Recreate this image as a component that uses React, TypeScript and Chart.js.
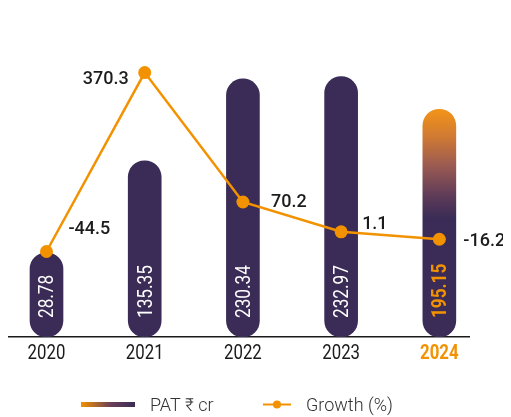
import React, { useEffect, useRef } from "react";
import { Chart, registerables } from "chart.js";

Chart.register(...registerables);

// ---- data ----
const years = [2020, 2021, 2022, 2023, 2024];
const yearLabels = ["2020", "2021", "2022", "2023", "2024"];
const patValues = [28.78, 135.35, 230.34, 232.97, 195.15];
const patLabels = ["28.78", "135.35", "230.34", "232.97", "195.15"];
const growthValues = [-44.5, 370.3, 70.2, 1.1, -16.2];
const growthLabels = ["-44.5", "370.3", "70.2", "1.1", "-16.2"];
const legendLabels = ["PAT \u20B9 cr", "Growth (%)"];

// ---- styles ----
const PURPLE = "#3a2c56";
const ORANGE = "#f39200";
const HIGHLIGHT = 4;
const growthPlacement = [
  { dx: 22, dy: -22, align: "left" },
  { dx: -16, dy: 7, align: "right" },
  { dx: 28, dy: 0, align: "left" },
  { dx: 21, dy: -7, align: "left" },
  { dx: 24, dy: 2, align: "left" },
];

const overlayPlugin = {
  id: "overlay",
  afterDatasetsDraw(chart: any) {
    const { ctx, chartArea } = chart;
    // top rule
    ctx.save();
    ctx.strokeStyle = "#b4b4b4";
    ctx.lineWidth = 2;
    ctx.beginPath();
    ctx.moveTo(chartArea.left, 6);
    ctx.lineTo(chartArea.right + 1, 6);
    ctx.stroke();
    ctx.restore();

    // bar labels (rotated)
    const barMeta = chart.getDatasetMeta(0);
    barMeta.data.forEach((bar: any, i: number) => {
      ctx.save();
      ctx.translate(bar.x, bar.base - 19);
      ctx.rotate(-Math.PI / 2);
      ctx.scale(0.86, 1);
      ctx.textAlign = "left";
      ctx.textBaseline = "alphabetic";
      if (i === HIGHLIGHT) {
        ctx.fillStyle = ORANGE;
        ctx.font = "bold 20px Roboto, sans-serif";
      } else {
        ctx.fillStyle = "#ffffff";
        ctx.font = "20px Roboto, sans-serif";
      }
      ctx.fillText(patLabels[i], 0, 7);
      ctx.restore();
    });

    // year labels
    const xs = chart.scales.x;
    years.forEach((yr, i) => {
      ctx.save();
      ctx.translate(xs.getPixelForValue(yr), 359);
      ctx.scale(0.84, 1);
      ctx.textAlign = "center";
      ctx.textBaseline = "alphabetic";
      if (i === HIGHLIGHT) {
        ctx.fillStyle = ORANGE;
        ctx.font = "bold 20px Roboto, sans-serif";
      } else {
        ctx.fillStyle = "#1a1a1a";
        ctx.font = "20px Roboto, sans-serif";
      }
      ctx.fillText(yearLabels[i], 0, 0);
      ctx.restore();
    });

    // growth labels
    const lineMeta = chart.getDatasetMeta(1);
    lineMeta.data.forEach((pt: any, i: number) => {
      const p = growthPlacement[i];
      ctx.save();
      ctx.fillStyle = "#1c1c1c";
      ctx.font = "500 18px Roboto, sans-serif";
      ctx.textAlign = p.align;
      ctx.textBaseline = "middle";
      ctx.fillText(growthLabels[i], pt.x + p.dx, pt.y + p.dy);
      ctx.restore();
    });

    // legend
    ctx.save();
    const g = ctx.createLinearGradient(73, 0, 127, 0);
    g.addColorStop(0, ORANGE);
    g.addColorStop(0.55, "#6a3f58");
    g.addColorStop(1, PURPLE);
    ctx.fillStyle = g;
    ctx.fillRect(73, 402, 54, 5);
    ctx.fillStyle = "#333333";
    ctx.font = "300 18px Roboto, sans-serif";
    ctx.textAlign = "left";
    ctx.textBaseline = "alphabetic";
    ctx.fillText(legendLabels[0], 142, 411);
    ctx.strokeStyle = ORANGE;
    ctx.lineWidth = 2;
    ctx.beginPath();
    ctx.moveTo(255, 404.5);
    ctx.lineTo(283, 404.5);
    ctx.stroke();
    ctx.fillStyle = ORANGE;
    ctx.beginPath();
    ctx.arc(269, 404.5, 4, 0, Math.PI * 2);
    ctx.fill();
    ctx.fillStyle = "#333333";
    ctx.fillText(legendLabels[1], 298, 411);
    ctx.restore();
  },
};

export default function App() {
  const ref = useRef<HTMLCanvasElement>(null);
  useEffect(() => {
    if (!ref.current) return;
    const yMin = -68.9;
    const chart = new Chart(ref.current, {
      type: "bar",
      data: {
        datasets: [
          {
            type: "bar",
            label: legendLabels[0],
            data: years.map((x, i) => ({ x, y: patValues[i] })),
            base: yMin,
            yAxisID: "y",
            xAxisID: "x",
            barThickness: 33,
            borderRadius: 17,
            borderSkipped: false,
            order: 2,
            backgroundColor: (c: any) => {
              const ch = c.chart;
              if (c.dataIndex !== HIGHLIGHT || !ch.chartArea) return PURPLE;
              const ys = ch.scales.y;
              const top = ys.getPixelForValue(patValues[HIGHLIGHT]);
              const bottom = ys.getPixelForValue(yMin);
              const grad = ch.ctx.createLinearGradient(0, top, 0, bottom);
              grad.addColorStop(0, "#f39418");
              grad.addColorStop(0.12, "#d07a33");
              grad.addColorStop(0.25, "#9a5a52");
              grad.addColorStop(0.38, "#5e3b58");
              grad.addColorStop(0.48, PURPLE);
              grad.addColorStop(1, PURPLE);
              return grad;
            },
          } as any,
          {
            type: "line",
            label: legendLabels[1],
            data: years.map((x, i) => ({ x, y: growthValues[i] })),
            yAxisID: "y2",
            xAxisID: "x",
            borderColor: ORANGE,
            backgroundColor: ORANGE,
            borderWidth: 2.5,
            pointRadius: 6.5,
            pointBorderWidth: 0,
            pointBackgroundColor: ORANGE,
            tension: 0,
            clip: false,
            order: 1,
          } as any,
        ],
      },
      options: {
        animation: false,
        responsive: false,
        layout: { autoPadding: false, padding: { top: 6, right: 34, left: 0, bottom: 0 } },
        plugins: { legend: { display: false }, tooltip: { enabled: false } },
        scales: {
          x: {
            type: "linear",
            offset: false,
            min: 2019.608,
            max: 2024.302,
            afterBuildTicks: (axis: any) => {
              axis.ticks = years.map((v) => ({ value: v }));
            },
            afterFit: (axis: any) => {
              axis.height = 80;
            },
            grid: { display: false, drawTicks: false },
            border: { display: true, color: "#1a1a1a", width: 1.5 },
            ticks: { display: false },
          },
          y: { display: false, min: yMin, max: 314.9 },
          y2: { display: false, min: -242.8, max: 524.7 },
        },
      },
      plugins: [overlayPlugin],
    } as any);
    return () => chart.destroy();
  }, []);
  return (
    <div style={{ width: 495, height: 417, marginTop: -8, position: "relative" }}>
      <canvas ref={ref} width={495} height={417} style={{ display: "block" }} />
    </div>
  );
}
